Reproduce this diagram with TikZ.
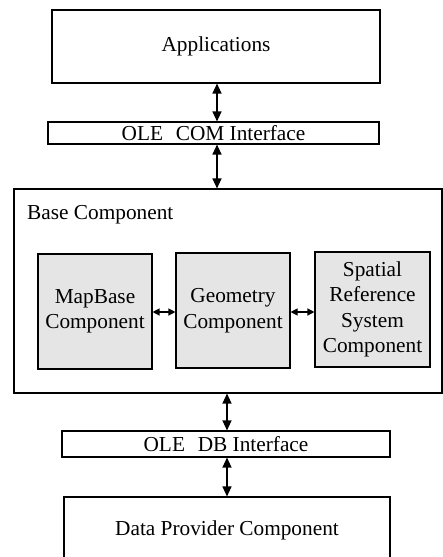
\documentclass[tikz,border=0pt]{standalone}
\usepackage{fontspec}
\setmainfont{Liberation Serif}
\usetikzlibrary{arrows.meta}
\begin{document}
\begin{tikzpicture}[x=1pt,y=-1pt,
  box/.style={draw,line width=1.1pt,inner sep=0pt,align=center,
    font=\fontsize{21.3}{25.5}\selectfont},
  comp/.style={box,fill=black!10,text width=112pt},
  biarrow/.style={line width=1.2pt,{Triangle[width=9pt,length=10pt]}-{Triangle[width=9pt,length=10pt]}},
  smallarrow/.style={line width=1.2pt,{Triangle[width=7pt,length=7pt]}-{Triangle[width=7pt,length=7pt]}}]
\useasboundingbox (0,0) rectangle (443,557);

% layers, top to bottom
\node[box,minimum width=328pt,minimum height=73pt] (app) at (216,46.5) {Applications};
\node[box,minimum width=331pt,minimum height=22pt] (olecom) at (213.5,133) {OLE\hspace{0.6em}COM Interface};
\node[box,minimum width=428pt,minimum height=204pt] (base) at (228,291) {};
\node[anchor=base west,inner sep=0pt,font=\fontsize{21.3}{25.5}\selectfont] (basetitle) at (27,219) {Base Component};
\node[box,minimum width=328pt,minimum height=26pt] (oledb) at (226,444) {OLE\hspace{0.6em}DB Interface};
\node[box,minimum width=326pt,minimum height=66pt] (data) at (227,530) {Data Provider Component};

% components inside the base layer
\node[comp,minimum width=114pt,minimum height=115pt] (mapbase) at (95,311.5) {MapBase\\Component};
\node[comp,minimum width=114pt,minimum height=115pt] (geom) at (233,310.5) {Geometry\\Component};
\node[comp,minimum width=115pt,minimum height=115pt] (srs) at (372.5,309.5) {\raisebox{-4pt}{\parbox{112pt}{\centering Spatial\\Reference\\System\\Component}}};

% connector guides
\coordinate (upx) at (217,0);
\coordinate (lowx) at (227,0);
\coordinate (hy) at (0,312);

\draw[biarrow] (app.south -| upx) -- (olecom.north -| upx);
\draw[biarrow] (olecom.south -| upx) -- (base.north -| upx);
\draw[biarrow] (base.south -| lowx) -- (oledb.north -| lowx);
\draw[biarrow] (oledb.south -| lowx) -- (data.north -| lowx);
\draw[smallarrow] (mapbase.east |- hy) -- (geom.west |- hy);
\draw[smallarrow] (geom.east |- hy) -- (srs.west |- hy);
\end{tikzpicture}
\end{document}
